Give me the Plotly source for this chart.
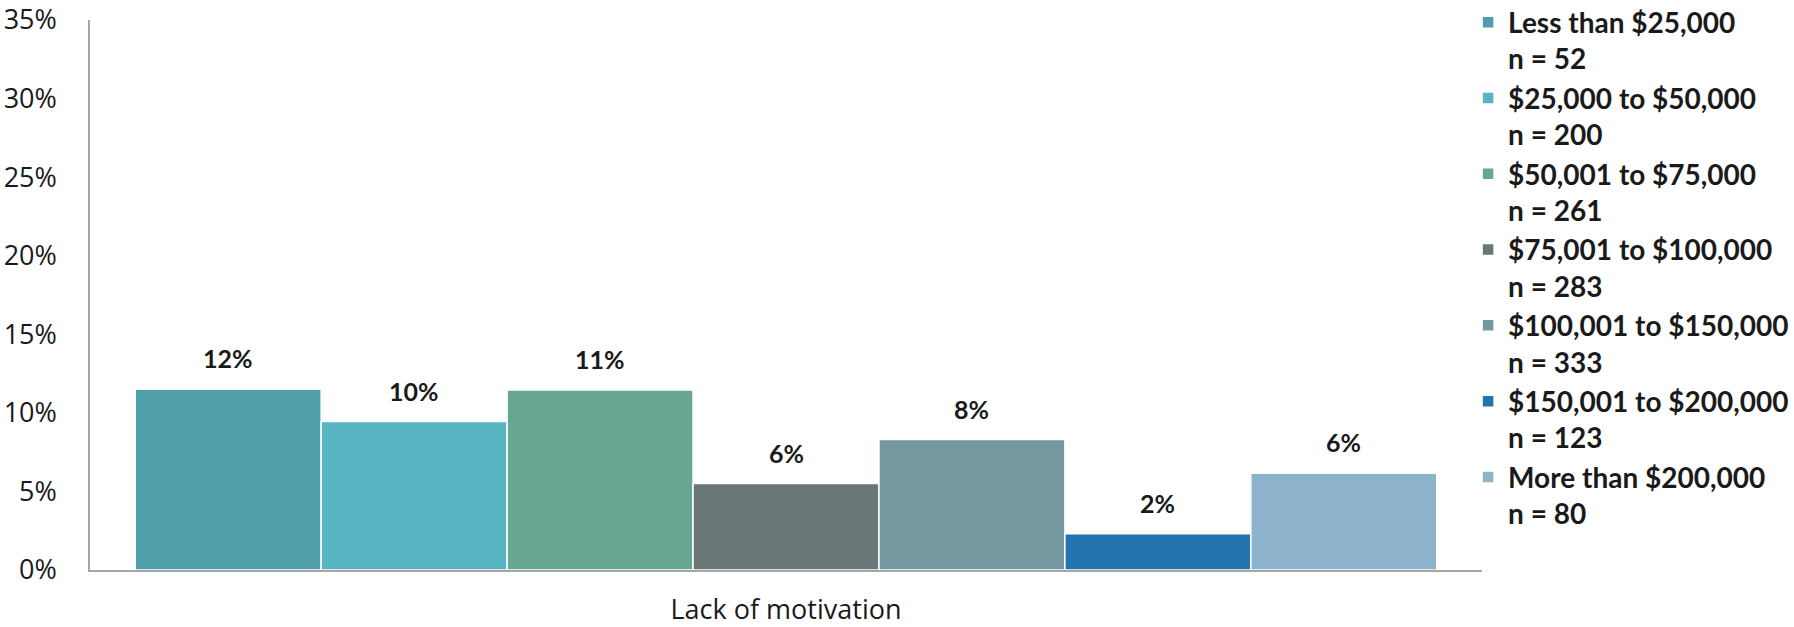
import plotly.graph_objects as go

category = ["Lack of motivation"]
series_names = [
    "Less than $25,000<br>n = 52",
    "$25,000 to $50,000<br>n = 200",
    "$50,001 to $75,000<br>n = 261",
    "$75,001 to $100,000<br>n = 283",
    "$100,001 to $150,000<br>n = 333",
    "$150,001 to $200,000<br>n = 123",
    "More than $200,000<br>n = 80",
]
values = [11.5, 9.45, 11.45, 5.5, 8.3, 2.3, 6.15]
value_labels = ["12%", "10%", "11%", "6%", "8%", "2%", "6%"]
colors = ["#4F9FAA", "#58B4C0", "#67A792", "#6A7779", "#7497A0", "#2273AE", "#8DB3CC"]
y_ticks = [0, 5, 10, 15, 20, 25, 30, 35]
y_ticklabels = ["0%", "5%", "10%", "15%", "20%", "25%", "30%", "35%"]

BARGAP = 0.065
n = len(values)

fig = go.Figure()
for i in range(n):
    fig.add_trace(go.Bar(
        x=category, y=[values[i]], name="<b>" + series_names[i].replace("<br>", "</b><br><b>") + "</b>",
        marker=dict(color=colors[i], line=dict(color="white", width=1.5)),
        legendgroup=str(i),
    ))

slot = (1 - BARGAP) / n
for i in range(n):
    fig.add_annotation(
        x=-0.5 + BARGAP / 2 + slot * (i + 0.5), y=values[i], xref="x", yref="y",
        text="<b>" + value_labels[i] + "</b>", showarrow=False,
        yanchor="bottom", yshift=14,
        font=dict(family="Lato", size=25, color="#1a1a1a"),
    )

fig.update_layout(
    width=1794, height=627,
    margin=dict(l=90, r=312, t=20, b=57, autoexpand=False),
    paper_bgcolor="white", plot_bgcolor="white",
    barmode="group", bargap=BARGAP, bargroupgap=0,
    showlegend=True,
    legend=dict(
        x=0.99, y=1.041, xanchor="left", yanchor="top",
        font=dict(family="Lato", size=28, color="#1a1a1a"),
        valign="top", tracegroupgap=3, traceorder="normal",
        itemclick=False, maxheight=627, bgcolor="rgba(0,0,0,0)",
    ),
    font=dict(family="Open Sans", color="#1a1a1a"),
)
fig.update_xaxes(
    showline=True, linecolor="#A6A6A6", linewidth=1.5,
    ticks="", tickfont=dict(family="Open Sans", size=27, color="#1a1a1a"),
    ticklabelstandoff=15, showgrid=False, automargin=False,
    ticklabeloverflow="allow",
)
fig.update_yaxes(
    range=[0, 35], tickvals=y_ticks, ticktext=y_ticklabels,
    showline=True, linecolor="#A6A6A6", linewidth=1.5,
    ticks="", tickfont=dict(family="Open Sans", size=27, color="#1a1a1a"),
    ticklabelstandoff=26, showgrid=False, zeroline=False, automargin=False,
    ticklabeloverflow="allow",
)

# remove the default 8px page margin so the figure fills the window exactly
fig.write_html("out.html", config={"displayModeBar": False},
               post_script="document.body.style.margin='0';")
